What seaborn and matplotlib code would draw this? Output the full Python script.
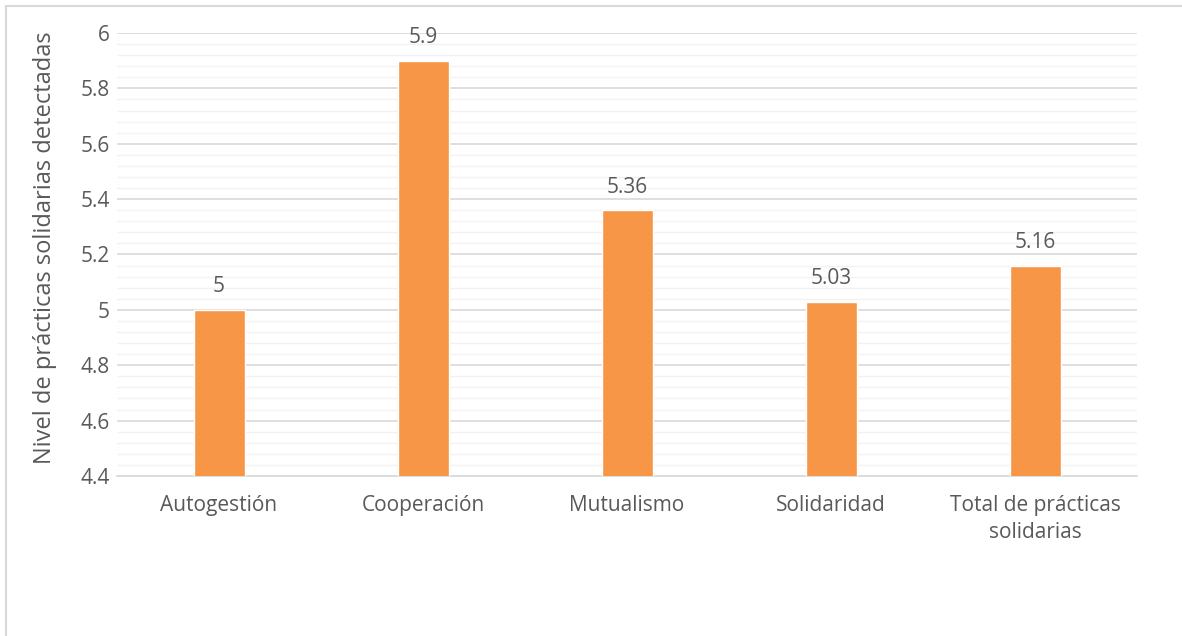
import matplotlib
matplotlib.use("Agg")
import matplotlib.pyplot as plt
import seaborn as sns
import pandas as pd
from matplotlib.ticker import MultipleLocator
from matplotlib.lines import Line2D

# Data
categories = ["Autogestión", "Cooperación", "Mutualismo", "Solidaridad",
              "Total de prácticas\nsolidarias"]
values = [5.0, 5.9, 5.36, 5.03, 5.16]
value_labels = ["5", "5.9", "5.36", "5.03", "5.16"]
y_ticks = [4.4, 4.6, 4.8, 5.0, 5.2, 5.4, 5.6, 5.8, 6.0]
y_tick_labels = ["4.4", "4.6", "4.8", "5", "5.2", "5.4", "5.6", "5.8", "6"]

sns.set_theme(style="white")
plt.rcParams['font.family'] = ['Open Sans', 'DejaVu Sans']

text_color = "#595959"
bar_color = "#F79646"

df = pd.DataFrame({"categoria": categories, "valor": values})

fig = plt.figure(figsize=(11.82, 6.36), dpi=100)
ax = fig.add_axes([0.099, 0.2516, 0.863, 0.6965])

sns.barplot(data=df, x="categoria", y="valor", color=bar_color, width=0.25,
            saturation=1, ax=ax, zorder=3)

ax.set_ylim(4.4, 6.0)
ax.set_xlim(-0.5, 4.5)
ax.set_yticks(y_ticks)
ax.set_yticklabels(y_tick_labels)
ax.yaxis.set_minor_locator(MultipleLocator(0.04))
ax.grid(axis="y", which="major", color="#D9D9D9", linewidth=1.2, zorder=0)
ax.grid(axis="y", which="minor", color="#F2F2F2", linewidth=1.0, zorder=0)
ax.set_axisbelow(True)
for s in ["top", "right", "left"]:
    ax.spines[s].set_visible(False)
ax.spines["bottom"].set_color("#D9D9D9")
ax.spines["bottom"].set_linewidth(1.2)

ax.tick_params(axis="both", which="both", length=0, labelsize=15,
               labelcolor=text_color)
ax.tick_params(axis="y", pad=5)
ax.tick_params(axis="x", pad=14)
for t in ax.get_xticklabels():
    t.set_linespacing(1.35)
ax.set_xlabel("")
ax.set_ylabel("Nivel de prácticas solidarias detectadas", fontsize=17,
              color=text_color)
ax.yaxis.set_label_coords(-0.059, 0.515)

for i, (v, lab) in enumerate(zip(values, value_labels)):
    ax.annotate(lab, (i, v), xytext=(0, 9), textcoords="offset points",
                ha="center", va="bottom", fontsize=15, color=text_color)

# Outer chart border (top and left visible)
fig.add_artist(Line2D([6 / 1182, 6 / 1182], [0, 1 - 6 / 636],
                      transform=fig.transFigure, color="#D9D9D9", linewidth=1.5))
fig.add_artist(Line2D([6 / 1182, 1.0], [1 - 6 / 636, 1 - 6 / 636],
                      transform=fig.transFigure, color="#D9D9D9", linewidth=1.5))

fig.savefig("out.png", dpi=100)
plt.close(fig)
